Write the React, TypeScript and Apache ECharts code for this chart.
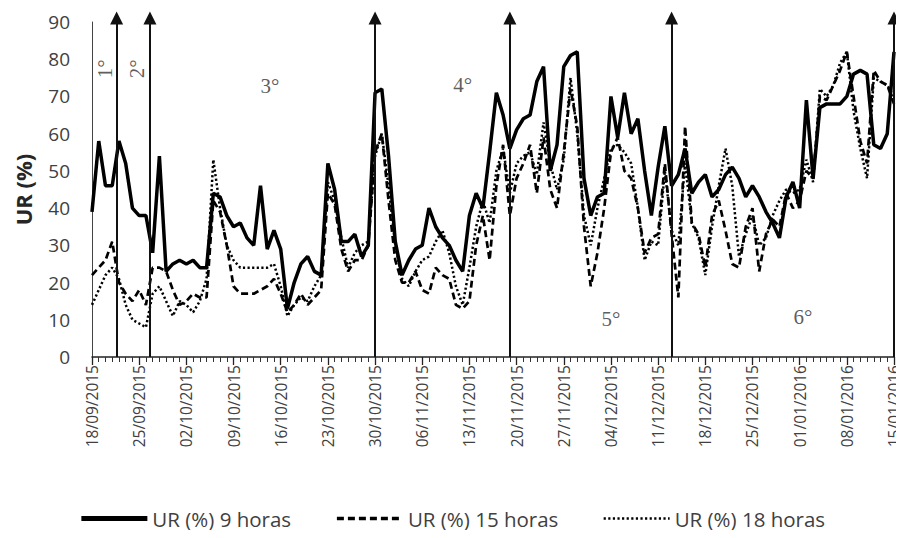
import React, { useEffect, useRef } from "react";
import * as echarts from "echarts";

// Weekly tick labels (every 7 days from 18/09/2015)
const tickLabels = [
  "18/09/2015", "25/09/2015", "02/10/2015", "09/10/2015", "16/10/2015", "23/10/2015",
  "30/10/2015", "06/11/2015", "13/11/2015", "20/11/2015", "27/11/2015", "04/12/2015",
  "11/12/2015", "18/12/2015", "25/12/2015", "01/01/2016", "08/01/2016", "15/01/2016",
];

// Daily relative humidity (%) from 18/09/2015 to 15/01/2016 (120 days)
const ur9h = [
  39, 58, 46, 46, 58, 52, 40, 38, 38, 28, 54, 23, 25, 26, 25, 26, 24, 24, 44, 43,
  38, 35, 36, 32, 30, 46, 29, 34, 29, 13, 20, 25, 27, 23, 22, 52, 45, 31, 31, 33,
  27, 30, 71, 72, 54, 31, 22, 26, 29, 30, 40, 35, 32, 30, 26, 23, 38, 44, 40, 55,
  71, 65, 56, 61, 64, 65, 74, 78, 50, 57, 78, 81, 82, 48, 38, 43, 44, 70, 59, 71,
  60, 64, 50, 38, 51, 62, 46, 49, 56, 44, 47, 49, 43, 45, 49, 51, 48, 43, 46, 43,
  39, 36, 32, 43, 47, 40, 69, 48, 67, 68, 68, 68, 70, 76, 77, 76, 57, 56, 60, 82,
];
const ur15h = [
  22, 24, 26, 31, 20, 17, 15, 18, 14, 24, 24, 23, 18, 14, 15, 17, 16, 16, 42, 39,
  30, 19, 17, 17, 17, 18, 19, 21, 17, 12, 14, 17, 14, 16, 18, 44, 41, 29, 23, 26,
  26, 30, 55, 60, 42, 26, 20, 20, 23, 18, 17, 24, 22, 21, 14, 13, 15, 30, 38, 26,
  46, 57, 38, 48, 52, 57, 44, 59, 45, 40, 55, 72, 62, 35, 19, 28, 40, 55, 59, 50,
  48, 40, 28, 32, 33, 52, 33, 16, 62, 36, 33, 24, 38, 42, 34, 25, 24, 35, 40, 23,
  33, 37, 35, 44, 40, 42, 50, 48, 70, 69, 73, 77, 82, 70, 58, 52, 77, 74, 73, 68,
];
const ur18h = [
  14, 18, 22, 24, 21, 14, 10, 9, 8, 17, 19, 15, 11, 15, 14, 12, 15, 21, 53, 40,
  30, 26, 24, 24, 24, 24, 24, 25, 19, 11, 14, 16, 15, 19, 22, 47, 42, 32, 24, 28,
  30, 31, 54, 60, 46, 30, 21, 19, 23, 26, 27, 31, 34, 28, 19, 14, 24, 35, 42, 36,
  50, 56, 44, 52, 54, 55, 49, 63, 52, 45, 53, 75, 60, 38, 30, 40, 48, 56, 57, 55,
  52, 40, 26, 31, 30, 50, 34, 30, 52, 36, 32, 22, 35, 46, 56, 46, 27, 33, 38, 30,
  32, 38, 42, 45, 44, 45, 53, 47, 72, 70, 73, 79, 82, 66, 56, 48, 75, 74, 73, 70,
];

// Phase boundaries (day index from 18/09/2015) drawn as arrows
const phaseBoundaryDays = [3.65, 8.6, 42, 62, 86, 119];
// Phase labels and their positions in data space (day, UR %)
const phaseLabels = ["1°", "2°", "3°", "4°", "5°", "6°"];
const phaseLabelDays = [2.0, 6.7, 26.4, 55, 77, 105.5];
const phaseLabelValues = [77.4, 77.4, 72.8, 73, 10.2, 10.8];
const phaseLabelRotate = [90, 90, 0, 0, 0, 0];

const seriesNames = ["UR (%) 9 horas", "UR (%) 15 horas", "UR (%) 18 horas"];

export default function App() {
  const ref = useRef<HTMLDivElement>(null);
  useEffect(() => {
    if (!ref.current) return;
    const chart = echarts.init(ref.current, undefined, { renderer: "svg" });
    const toXY = (arr: number[]) => arr.map((v, i) => [i, v]);
    const lastDay = ur9h.length - 1;
    const gridBase = { left: 92, right: 10, bottom: 181, containLabel: false };
    const solidStyle = { color: "#000", width: 3.5, type: "solid" };
    const dashedStyle = { color: "#000", width: 2.7, type: [7, 4] };
    const dottedStyle = { color: "#000", width: 2.5, type: [2.2, 2.4] };
    chart.setOption({
      animation: false,
      backgroundColor: "#fff",
      grid: [
        { ...gridBase, top: 22 },
        { ...gridBase, top: 18 },
      ],
      legend: {
        bottom: 4,
        left: "center",
        itemWidth: 66,
        itemHeight: 14,
        itemGap: 44,
        itemStyle: { opacity: 0 },
        textStyle: { fontFamily: "Open Sans", fontSize: 20.5, color: "#404040" },
        data: [
          { name: seriesNames[0], lineStyle: { width: 5 } },
          { name: seriesNames[1], lineStyle: { width: 3.5 } },
          { name: seriesNames[2], lineStyle: { width: 2.5 } },
        ],
      },
      xAxis: [
        {
          type: "value",
          gridIndex: 0,
          min: 0,
          max: lastDay,
          interval: 7,
          axisLine: { show: true, lineStyle: { color: "#222", width: 1.5 } },
          axisTick: { show: true, length: 8, lineStyle: { color: "#222", width: 1.3 } },
          minorTick: { show: true, splitNumber: 7, length: 5, lineStyle: { color: "#333", width: 1 } },
          splitLine: { show: false },
          minorSplitLine: { show: false },
          axisLabel: {
            rotate: 90,
            margin: 8,
            fontFamily: "Open Sans",
            fontSize: 15.5,
            color: "#404040",
            formatter: (v: number) => tickLabels[Math.round(v / 7)] ?? "",
          },
        },
        { type: "value", gridIndex: 1, min: 0, max: lastDay, show: false },
      ],
      yAxis: [
        {
          type: "value",
          gridIndex: 0,
          min: 0,
          max: 90,
          interval: 10,
          name: "UR (%)",
          nameLocation: "middle",
          nameGap: 58,
          nameTextStyle: { fontFamily: "Open Sans", fontSize: 22, fontWeight: "bold", color: "#262626" },
          axisLine: { show: true, lineStyle: { color: "#444", width: 1 } },
          axisTick: { show: false },
          splitLine: { show: false },
          axisLabel: { fontFamily: "Open Sans", fontSize: 19, color: "#404040", margin: 22 },
        },
        { type: "value", gridIndex: 1, min: 0, max: 1, show: false },
      ],
      series: [
        {
          name: seriesNames[0],
          type: "line",
          data: toXY(ur9h),
          symbol: "none",
          lineStyle: solidStyle,
          itemStyle: { color: "#000" },
          z: 3,
        },
        {
          name: seriesNames[1],
          type: "line",
          data: toXY(ur15h),
          symbol: "none",
          lineStyle: dashedStyle,
          itemStyle: { color: "#000" },
          z: 2,
        },
        {
          name: seriesNames[2],
          type: "line",
          data: toXY(ur18h),
          symbol: "none",
          lineStyle: dottedStyle,
          itemStyle: { color: "#000" },
          z: 1,
        },
        {
          name: "phases",
          type: "line",
          xAxisIndex: 1,
          yAxisIndex: 1,
          data: [],
          symbol: "none",
          silent: true,
          z: 4,
          markLine: {
            silent: true,
            symbol: ["none", "triangle"],
            symbolSize: 13,
            label: { show: false },
            emphasis: { disabled: true },
            lineStyle: { color: "#111", width: 2, type: "solid" },
            data: phaseBoundaryDays.map((d) => ({ xAxis: d })),
          },
        },
        {
          name: "phaseLabels",
          type: "scatter",
          xAxisIndex: 0,
          yAxisIndex: 0,
          silent: true,
          symbolSize: 1,
          itemStyle: { color: "rgba(0,0,0,0)" },
          z: 5,
          data: phaseLabels.map((t, i) => ({
            value: [phaseLabelDays[i], phaseLabelValues[i]],
            label: {
              show: true,
              position: "inside",
              formatter: t,
              rotate: phaseLabelRotate[i],
              fontFamily: "Liberation Serif",
              fontSize: 21,
              color: "#333",
            },
          })),
        },
      ],
    });
    return () => chart.dispose();
  }, []);
  return <div ref={ref} style={{ width: 904, height: 538, margin: -8 }} />;
}
